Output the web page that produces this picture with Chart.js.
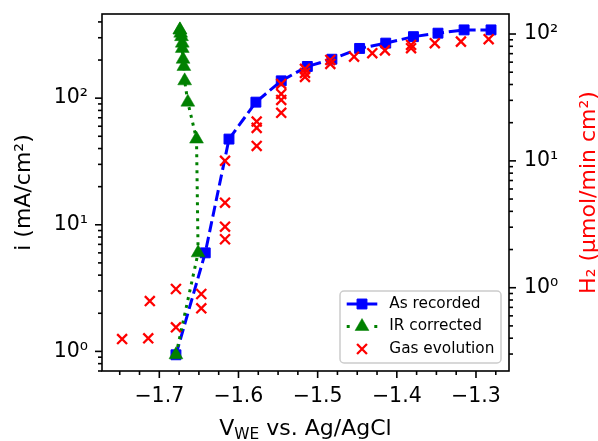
<!DOCTYPE html>
<html lang="en">
<head>
<meta charset="UTF-8">
<title>Polarization curve and H2 evolution</title>
<script src="https://cdn.jsdelivr.net/npm/chart.js@4"></script>
<style>
    body { margin: 0; background: #fff; }
    .wrap { width: 598px; height: 441px; position: relative; }
</style>
</head>
<body>
<div class="wrap"><canvas id="polChart"></canvas></div>
<script>
// working electrode potential, V vs. Ag/AgCl
const vRecorded  = [-1.679, -1.642, -1.612, -1.578, -1.546, -1.513, -1.482, -1.447, -1.414, -1.379, -1.348, -1.315, -1.281];
const vCorrected = [-1.679, -1.651, -1.653, -1.664, -1.668, -1.669, -1.670, -1.671, -1.671, -1.672, -1.673, -1.674, -1.674];
// current density in mA/cm2, shared by both curves
const currentDensity = [0.94, 6.0, 47.5, 93, 137, 178, 203, 247, 272, 306, 326, 346, 346];

// H2 evolution rate, umol/min cm2
const vGas   = [-1.747, -1.714, -1.712, -1.679, -1.679, -1.647, -1.647, -1.617, -1.617, -1.617, -1.617,
                -1.577, -1.577, -1.577, -1.546, -1.546, -1.546, -1.546, -1.516, -1.516, -1.516,
                -1.484, -1.484, -1.454, -1.431, -1.415, -1.382, -1.382, -1.352, -1.319, -1.284];
const h2Rate = [0.394, 0.399, 0.785, 0.977, 0.487, 0.892, 0.688, 10.0, 4.68, 3.03, 2.41,
                20.4, 18.2, 13.1, 40.4, 33.7, 30.2, 23.9, 53.1, 49.3, 45.9,
                62.5, 58.1, 66.3, 70.6, 74.3, 77.3, 82.0, 84.6, 87.1, 91.0];

const seriesNames = ['As recorded', 'IR corrected', 'Gas evolution'];
const xTicks = [-1.7, -1.6, -1.5, -1.4, -1.3];
const iTicks = [1, 10, 100];
const h2Ticks = [1, 10, 100];

const FONT = 'DejaVu Sans';
const SUP = { 0: '\u2070', 1: '\u00b9', 2: '\u00b2' };
const decade = v => '10' + SUP[Math.round(Math.log10(v))];
const xLabel = v => (v < 0 ? '\u2212' : '') + Math.abs(v).toFixed(1);

const pts = (xs, ys) => xs.map((x, k) => ({ x: x, y: ys[k] }));

function logMinors(min, max) {
    const out = [];
    for (let e = Math.floor(Math.log10(min)); e <= Math.ceil(Math.log10(max)); e++) {
        for (let m = 2; m <= 9; m++) {
            const v = m * Math.pow(10, e);
            if (v >= min && v <= max) out.push(v);
        }
    }
    return out;
}

function linMinors(min, max, step) {
    const out = [];
    for (let v = Math.ceil(min / step) * step; v <= max; v += step) {
        const r = Math.round(v * 1000) / 1000;
        if (Math.abs(r * 10 - Math.round(r * 10)) > 1e-6) out.push(r);
    }
    return out;
}

// spines and outward tick marks (major 7px, minor 4px)
const frame = {
    id: 'frame',
    afterDatasetsDraw(chart) {
        const { ctx, chartArea: a, scales } = chart;
        ctx.save();
        ctx.strokeStyle = '#000';
        ctx.lineWidth = 1.6;
        const mark = (scale, values, len) => {
            values.forEach(v => {
                const p = scale.getPixelForValue(v);
                ctx.beginPath();
                if (scale.axis === 'x') {
                    ctx.moveTo(p, a.bottom); ctx.lineTo(p, a.bottom + len);
                } else if (scale.position === 'left') {
                    ctx.moveTo(a.left, p); ctx.lineTo(a.left - len, p);
                } else {
                    ctx.moveTo(a.right, p); ctx.lineTo(a.right + len, p);
                }
                ctx.stroke();
            });
        };
        const x = scales.x, y = scales.y, y1 = scales.y1;
        mark(x, xTicks, 7);
        mark(x, linMinors(x.min, x.max, 0.025), 4);
        mark(y, iTicks, 7);
        mark(y, logMinors(y.min, y.max), 4);
        mark(y1, h2Ticks, 7);
        mark(y1, logMinors(y1.min, y1.max), 4);
        ctx.strokeRect(a.left, a.top, a.right - a.left, a.bottom - a.top);
        ctx.restore();
    }
};

// axis titles (x title has a subscript)
const titles = {
    id: 'titles',
    afterDraw(chart) {
        const { ctx, chartArea: a } = chart;
        const midY = (a.top + a.bottom) / 2;
        ctx.save();
        ctx.textBaseline = 'alphabetic';
        ctx.textAlign = 'center';

        ctx.fillStyle = '#000';
        ctx.font = `22px "${FONT}"`;
        ctx.save();
        ctx.translate(30, midY);
        ctx.rotate(-Math.PI / 2);
        ctx.fillText('i (mA/cm\u00b2)', 0, 0);
        ctx.restore();

        ctx.fillStyle = '#ff0000';
        ctx.save();
        ctx.translate(595, midY);
        ctx.rotate(-Math.PI / 2);
        ctx.fillText('H\u2082 (\u03bcmol/min cm\u00b2)', 0, 0);
        ctx.restore();

        // V_WE vs. Ag/AgCl
        ctx.fillStyle = '#000';
        ctx.textAlign = 'left';
        const big = `22px "${FONT}"`, small = `15.4px "${FONT}"`;
        ctx.font = big;
        const w1 = ctx.measureText('V').width;
        const w3 = ctx.measureText(' vs. Ag/AgCl').width;
        ctx.font = small;
        const w2 = ctx.measureText('WE').width;
        let x0 = (a.left + a.right) / 2 - (w1 + w2 + w3) / 2;
        const base = 435;
        ctx.font = big;
        ctx.fillText('V', x0, base);
        ctx.font = small;
        ctx.fillText('WE', x0 + w1, base + 4);
        ctx.font = big;
        ctx.fillText(' vs. Ag/AgCl', x0 + w1 + w2, base);
        ctx.restore();
    }
};

// legend in the lower right corner of the plot area
const legendBox = {
    id: 'legendBox',
    afterDraw(chart) {
        const { ctx, chartArea: a } = chart;
        const w = 161, h = 72;
        const left = a.right - 8 - w, top = a.bottom - 8 - h;
        ctx.save();
        ctx.fillStyle = 'rgba(255,255,255,0.8)';
        ctx.strokeStyle = '#cccccc';
        ctx.lineWidth = 1.5;
        ctx.beginPath();
        ctx.roundRect(left, top, w, h, 4);
        ctx.fill();
        ctx.stroke();

        const x1 = left + 6.7, x2 = left + 37.3, xm = (x1 + x2) / 2;
        seriesNames.forEach((name, k) => {
            const ds = chart.data.datasets[k];
            const yRow = top + 13 + k * 22.5;
            if (ds.showLine) {
                ctx.strokeStyle = ds.borderColor;
                ctx.lineWidth = ds.borderWidth;
                ctx.setLineDash(k === 1 ? [3, 24.6] : []);
                ctx.beginPath();
                ctx.moveTo(x1, yRow);
                ctx.lineTo(x2, yRow);
                ctx.stroke();
            }
            ctx.setLineDash([]);
            ctx.fillStyle = ds.pointBackgroundColor;
            ctx.strokeStyle = ds.pointBorderColor;
            ctx.lineWidth = ds.pointBorderWidth;
            Chart.helpers.drawPoint(ctx, {
                pointStyle: ds.pointStyle, radius: ds.pointRadius,
                borderWidth: ds.pointBorderWidth, rotation: 0
            }, xm, yRow);
            ctx.fillStyle = '#000';
            ctx.font = `15.3px "${FONT}"`;
            ctx.textAlign = 'left';
            ctx.textBaseline = 'middle';
            ctx.fillText(name, left + 49.3, yRow);
        });
        ctx.restore();
    }
};

const tickFont = { family: FONT, size: 20.5 };

new Chart(document.getElementById('polChart'), {
    type: 'scatter',
    data: {
        datasets: [{
            label: seriesNames[0],
            data: pts(vRecorded, currentDensity),
            yAxisID: 'y',
            showLine: true,
            order: 3,
            borderColor: '#0000ff',
            backgroundColor: '#0000ff',
            borderWidth: 3,
            borderDash: [11.1, 4.8],
            pointStyle: 'rect',
            pointRadius: 7,
            pointBackgroundColor: '#0000ff',
            pointBorderColor: '#0000ff',
            pointBorderWidth: 1
        }, {
            label: seriesNames[1],
            data: pts(vCorrected, currentDensity),
            yAxisID: 'y',
            showLine: true,
            order: 2,
            borderColor: '#008000',
            backgroundColor: '#008000',
            borderWidth: 3,
            borderDash: [3, 5],
            pointStyle: 'triangle',
            pointRadius: 8,
            pointBackgroundColor: '#008000',
            pointBorderColor: '#008000',
            pointBorderWidth: 0.5
        }, {
            label: seriesNames[2],
            data: pts(vGas, h2Rate),
            yAxisID: 'y1',
            showLine: false,
            order: 1,
            borderColor: '#ff0000',
            backgroundColor: '#ff0000',
            pointStyle: 'crossRot',
            pointRadius: 7,
            pointBackgroundColor: '#ff0000',
            pointBorderColor: '#ff0000',
            pointBorderWidth: 2.3
        }]
    },
    options: {
        responsive: true,
        maintainAspectRatio: false,
        animation: false,
        layout: { padding: { top: 14, left: 0, right: 0, bottom: 0 } },
        plugins: { legend: { display: false }, tooltip: { enabled: false } },
        scales: {
            x: {
                type: 'linear',
                min: -1.7724,
                max: -1.2583,
                grid: { display: false, drawTicks: false },
                border: { display: false },
                ticks: { font: tickFont, color: '#000', padding: 13, autoSkip: false, maxRotation: 0, callback: xLabel },
                afterBuildTicks: s => { s.ticks = xTicks.map(v => ({ value: v })); },
                afterFit: s => { s.height = 70; s.paddingLeft = 0; s.paddingRight = 0; }
            },
            y: {
                type: 'logarithmic',
                position: 'left',
                min: 0.704,
                max: 462,
                grid: { display: false, drawTicks: false },
                border: { display: false },
                ticks: { font: tickFont, color: '#000', padding: 14, autoSkip: false, callback: decade },
                afterBuildTicks: s => { s.ticks = iTicks.map(v => ({ value: v })); },
                afterFit: s => { s.width = 102; s.paddingTop = 0; s.paddingBottom = 0; }
            },
            y1: {
                type: 'logarithmic',
                position: 'right',
                min: 0.2205,
                max: 143.8,
                grid: { display: false, drawTicks: false },
                border: { display: false },
                ticks: { font: tickFont, color: '#000', padding: 15, autoSkip: false, callback: decade },
                afterBuildTicks: s => { s.ticks = h2Ticks.map(v => ({ value: v })); },
                afterFit: s => { s.width = 89; s.paddingTop = 0; s.paddingBottom = 0; }
            }
        }
    },
    plugins: [frame, titles, legendBox]
});
</script>
</body>
</html>
